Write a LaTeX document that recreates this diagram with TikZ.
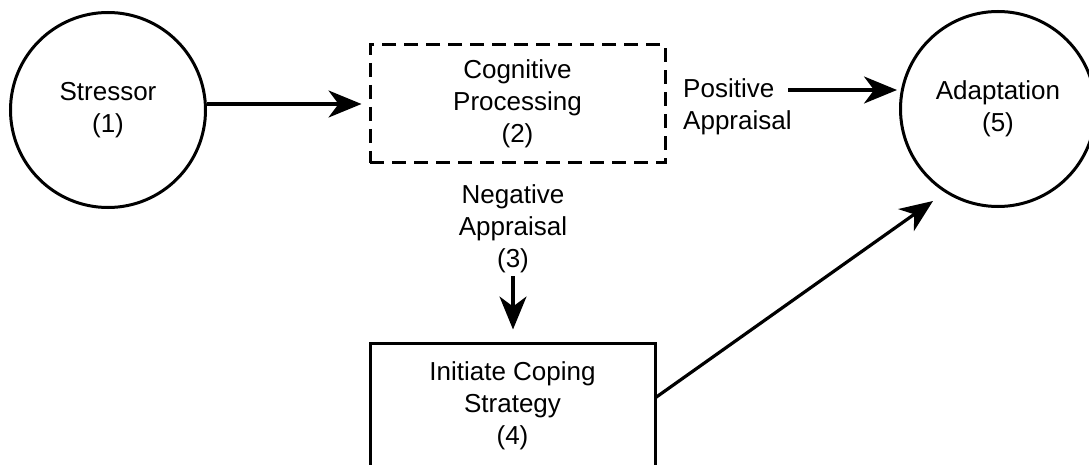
\documentclass[tikz,border=0pt]{standalone}
\usepackage{fontspec}
\setmainfont{Liberation Sans}
\usetikzlibrary{arrows.meta}
\begin{document}
\begin{tikzpicture}[x=1pt,y=-1pt,
  every node/.style={font=\fontsize{26}{32}\selectfont, align=center, inner sep=0pt},
  circ/.style={draw, circle, line width=3pt, minimum size=195pt},
  dbox/.style={draw, line width=3pt, dash pattern=on 14pt off 8pt, minimum width=295pt, minimum height=118pt},
  sbox/.style={draw, line width=3pt, minimum width=285pt, minimum height=126pt},
  arr/.style={line width=3.2pt, -{Stealth[length=33pt,width=27pt,inset=10pt]}}]
\useasboundingbox (0,0) rectangle (1089,465);
\clip (0,0) rectangle (1089,465);
\node[circ] (stressor) at (108,110) {Stressor\\(1)};
\node[dbox] (cog) at (517.5,104) {Cognitive\\Processing\\(2)};
\node[align=left, anchor=west] (pos) at (683,107) {Positive\\Appraisal};
\node[circ] (adapt) at (998,109) {Adaptation\\(5)};
\node (neg) at (513,229) {Negative\\Appraisal\\(3)};
\node[sbox] (cope) at (512.5,406) {Initiate Coping\\Strategy\\(4)};
\coordinate (pstart) at (788,90);
\coordinate (adtip) at (933,201);
\coordinate (cstart) at (655,398);
\draw[arr] (stressor.east |- cog.west) -- (cog.west) [shorten >=7pt];
\draw[arr, shorten >=2pt] (pstart) -- (pstart -| adapt.west);
\draw[arr, shorten <=3pt, shorten >=12pt] (neg.south) -- (neg.south |- cope.north);
\draw[arr] (cstart) -- (adtip);
\end{tikzpicture}
\end{document}
